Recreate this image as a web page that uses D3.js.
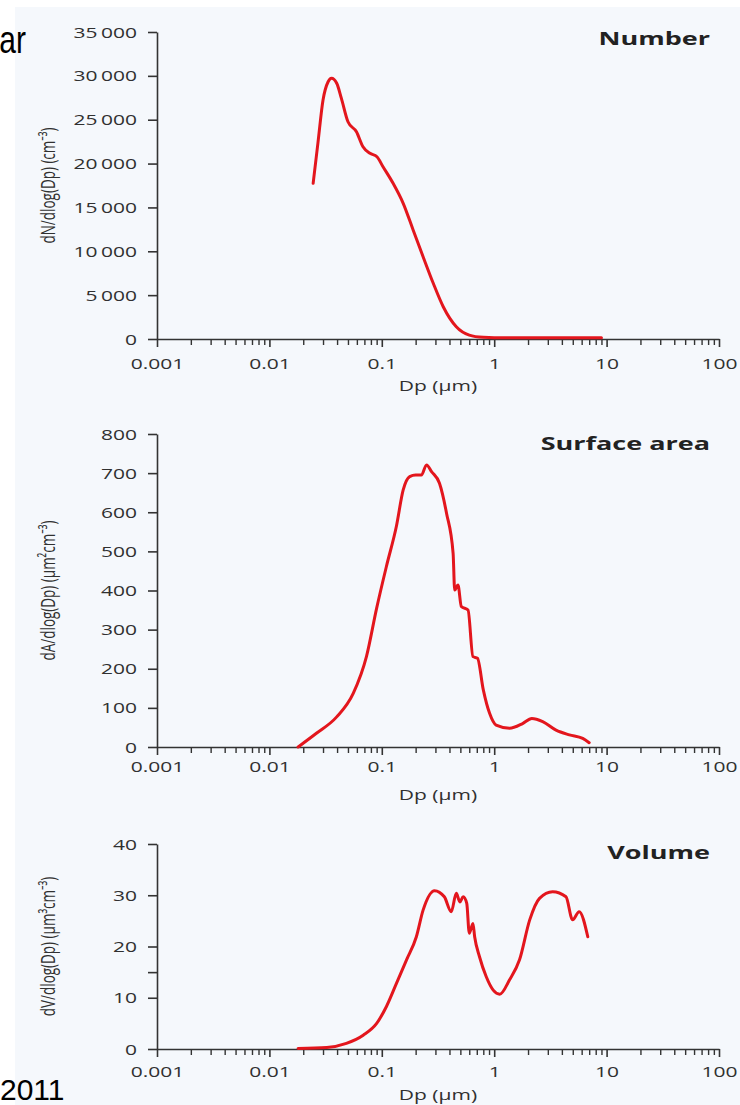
<!DOCTYPE html>
<html>
<head>
<meta charset="utf-8">
<script src="https://cdn.jsdelivr.net/npm/d3@7"></script>
<style>
  body { margin: 0; background: #fff; }
  svg { display: block; }
</style>
</head>
<body>
<div id="chart"></div>
<script>
const W = 740;
const H = 1105;

// x axis (shared by all three panels)
const xTickValues = [0.001, 0.01, 0.1, 1, 10, 100];
const xTickLabels = ["0.001", "0.01", "0.1", "1", "10", "100"];

// Number distribution
const numberDp = [0.0245, 0.027, 0.030, 0.0333, 0.0357, 0.0397, 0.0437, 0.050, 0.0595, 0.068, 0.0785, 0.0905, 0.1025, 0.126, 0.155, 0.19, 0.233, 0.287, 0.352, 0.46, 0.60, 0.80, 1.0, 2.0, 5.0, 9.0];
const numberVal = [17750, 22300, 27250, 29330, 29720, 29150, 27440, 24770, 23630, 21920, 21170, 20780, 19640, 17750, 15470, 12430, 9380, 6350, 3680, 1400, 450, 190, 150, 150, 150, 150];
const numberTicks = [0, 5000, 10000, 15000, 20000, 25000, 30000, 35000];

// Surface area distribution
const areaDp = [0.018, 0.0262, 0.0397, 0.0557, 0.073, 0.090, 0.110, 0.135, 0.155, 0.177, 0.200, 0.225, 0.250, 0.277, 0.326, 0.377, 0.431, 0.445, 0.476, 0.51, 0.585, 0.647, 0.71, 0.80, 0.91, 1.04, 1.37, 1.79, 2.16, 2.70, 3.55, 4.67, 6.13, 7.0];
const areaVal = [0, 35, 77, 137, 231, 355, 462, 565, 657, 691, 695, 695, 721, 704, 674, 597, 495, 401, 414, 359, 350, 231, 227, 146, 86, 56, 48, 60, 73, 65, 43, 31, 22, 11];
const areaTicks = [0, 100, 200, 300, 400, 500, 600, 700, 800];

// Volume distribution
const volumeDp = [0.018, 0.0324, 0.0484, 0.0683, 0.090, 0.110, 0.135, 0.166, 0.203, 0.233, 0.295, 0.36, 0.415, 0.46, 0.495, 0.53, 0.57, 0.60, 0.647, 0.67, 0.74, 0.85, 0.98, 1.12, 1.37, 1.68, 2.07, 2.53, 3.31, 4.35, 4.98, 5.7, 6.8];
const volumeVal = [0.1, 0.3, 1.1, 2.7, 5.0, 8.3, 12.8, 17.4, 21.9, 27.1, 30.9, 29.7, 26.8, 30.4, 28.7, 29.7, 28.4, 22.6, 24.5, 21.9, 18.0, 14.1, 11.5, 10.7, 13.5, 17.4, 25.2, 29.4, 30.7, 29.7, 25.2, 26.8, 21.9];
const volumeTicks = [0, 10, 20, 30, 40];
const volumeMinorTicks = [15];

const STRETCH = 1.5; // the original figure is stretched horizontally
const FONT = "'Open Sans', 'Noto Sans', sans-serif";
const RED = "#e3161d";
const AXIS = "#333";
const TEXT = "#303030";

const fmt = d3.formatLocale({ decimal: ".", thousands: "\u2009", grouping: [3], currency: ["", ""] }).format(",");

const panels = [
  { title: "Number", ylabel: "dN/dlog(Dp) (cm\u207B\u00B3)", dp: numberDp, val: numberVal, ticks: numberTicks, minor: [],
    top: 32, bottom: 339, xLabelOff: 30, dpY: 391, titleY: 45 },
  { title: "Surface area", ylabel: "dA/dlog(Dp) (\u00B5m\u00B2cm\u207B\u00B3)", dp: areaDp, val: areaVal, ticks: areaTicks, minor: [],
    top: 434, bottom: 747, xLabelOff: 25, dpY: 800, titleY: 450 },
  { title: "Volume", ylabel: "dV/dlog(Dp) (\u00B5m\u00B3cm\u207B\u00B3)", dp: volumeDp, val: volumeVal, ticks: volumeTicks, minor: volumeMinorTicks,
    top: 844, bottom: 1049, xLabelOff: 28, dpY: 1100, titleY: 859 }
];

const svg = d3.select("#chart").append("svg")
  .attr("width", W)
  .attr("height", H)
  .style("font-family", FONT);

svg.append("rect")
  .attr("x", 15).attr("y", 7)
  .attr("width", W - 15).attr("height", H - 7)
  .attr("fill", "#f5f8fc");

// leftovers of the slide
svg.append("text")
  .attr("transform", "translate(26,53) scale(1,1.3)")
  .attr("text-anchor", "end")
  .style("font-family", "'Liberation Sans', Arial, sans-serif")
  .attr("font-size", 30)
  .attr("fill", "#000")
  .text("ar");

svg.append("text")
  .attr("x", 0).attr("y", 1100)
  .style("font-family", "'Liberation Sans', Arial, sans-serif")
  .attr("font-size", 30)
  .attr("fill", "#000")
  .text("2011");

const xScale = d3.scaleLog().domain([0.001, 100]).range([157, 719]);

const minorX = [];
for (let e = -3; e < 2; e++) {
  for (let m = 2; m <= 9; m++) minorX.push(m * Math.pow(10, e));
}

panels.forEach((p) => {
  const yScale = d3.scaleLinear()
    .domain([0, d3.max(p.ticks)])
    .range([p.bottom, p.top]);

  const g = svg.append("g");

  // y axis
  const yAxis = g.append("g")
    .attr("transform", `translate(${xScale.range()[0]},0)`)
    .call(d3.axisLeft(yScale).tickValues(p.ticks).tickSize(9).tickSizeOuter(0).tickFormat(fmt));
  yAxis.select(".domain").attr("stroke", AXIS).attr("stroke-width", 1.6);
  yAxis.selectAll(".tick line").attr("stroke", AXIS).attr("stroke-width", 1.6);
  yAxis.selectAll(".tick text")
    .attr("x", null)
    .attr("dy", "0.36em")
    .attr("transform", `translate(-20,0) scale(${STRETCH},1)`)
    .attr("font-size", 14)
    .attr("font-family", FONT)
    .attr("fill", TEXT);

  if (p.minor.length) {
    const yMinor = g.append("g")
      .attr("transform", `translate(${xScale.range()[0]},0)`)
      .call(d3.axisLeft(yScale).tickValues(p.minor).tickSize(9).tickSizeOuter(0).tickFormat(""));
    yMinor.select(".domain").remove();
    yMinor.selectAll(".tick line").attr("stroke", AXIS).attr("stroke-width", 1.6);
  }

  // x axis
  const xAxis = g.append("g")
    .attr("transform", `translate(0,${p.bottom})`)
    .call(d3.axisBottom(xScale).tickValues(xTickValues).tickSize(8).tickSizeOuter(0)
      .tickFormat((d, i) => xTickLabels[i]));
  xAxis.select(".domain").attr("stroke", AXIS).attr("stroke-width", 1.6);
  xAxis.selectAll(".tick line").attr("stroke", AXIS).attr("stroke-width", 1.6);
  xAxis.selectAll(".tick text")
    .attr("y", null)
    .attr("dy", null)
    .attr("transform", `translate(0,${p.xLabelOff}) scale(${STRETCH},1)`)
    .attr("font-size", 14)
    .attr("font-family", FONT)
    .attr("fill", TEXT);

  const xMinor = g.append("g")
    .attr("transform", `translate(0,${p.bottom})`)
    .call(d3.axisBottom(xScale).tickValues(minorX).tickSize(6).tickFormat(""));
  xMinor.select(".domain").remove();
  xMinor.selectAll(".tick line").attr("stroke", AXIS).attr("stroke-width", 1.4);

  // axis labels
  g.append("text")
    .attr("transform", `translate(${(xScale.range()[0] + xScale.range()[1]) / 2},${p.dpY}) scale(${STRETCH},1)`)
    .attr("text-anchor", "middle")
    .attr("font-size", 14)
    .attr("fill", TEXT)
    .text("Dp (\u00B5m)");

  g.append("text")
    .attr("transform", `translate(55,${(p.top + p.bottom) / 2}) scale(${STRETCH},1) rotate(-90)`)
    .attr("text-anchor", "middle")
    .attr("font-size", 13.5)
    .attr("fill", TEXT)
    .text(p.ylabel);

  // title
  g.append("text")
    .attr("transform", `translate(710,${p.titleY}) scale(${STRETCH},1)`)
    .attr("text-anchor", "end")
    .attr("font-size", 18)
    .attr("font-weight", "bold")
    .attr("fill", "#222")
    .text(p.title);

  // distribution curve
  const pts = p.dp.map((d, i) => [d, p.val[i]]);
  const line = d3.line()
    .x((d) => xScale(d[0]))
    .y((d) => yScale(d[1]))
    .curve(d3.curveMonotoneX);

  g.append("path")
    .datum(pts)
    .attr("d", line)
    .attr("fill", "none")
    .attr("stroke", RED)
    .attr("stroke-width", 3)
    .attr("stroke-linejoin", "round")
    .attr("stroke-linecap", "round");
});
</script>
</body>
</html>
